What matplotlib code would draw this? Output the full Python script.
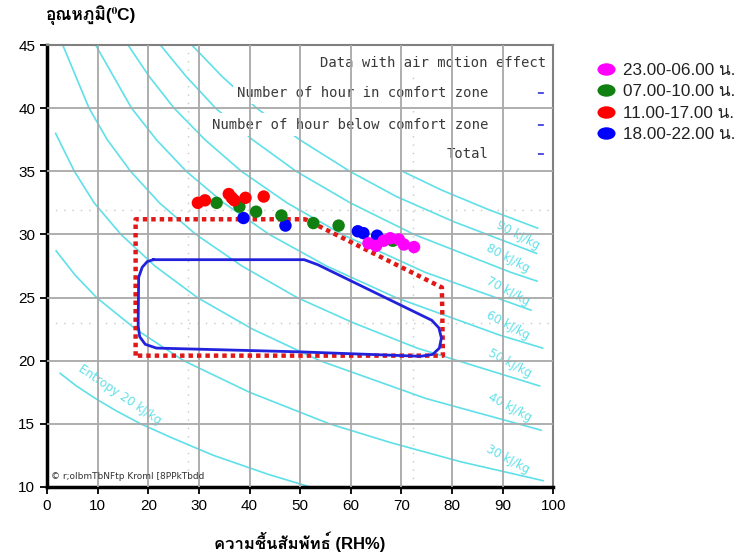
import matplotlib
matplotlib.use('Agg')
import matplotlib.pyplot as plt
from matplotlib import font_manager, ft2font
from matplotlib.lines import Line2D
from matplotlib.path import Path
from matplotlib.transforms import Affine2D

# ---- data (RH %, temperature C) ----
pts_night_rh = [63.5, 65.0, 66.5, 67.8, 69.5, 70.5, 72.5]
pts_night_t = [29.3, 29.1, 29.5, 29.7, 29.6, 29.2, 29.0]
pts_morning_rh = [33.5, 38.0, 41.3, 46.3, 52.6, 57.6, 68.3]
pts_morning_t = [32.5, 32.2, 31.8, 31.5, 30.9, 30.7, 29.5]
pts_day_rh = [29.8, 31.2, 35.9, 36.5, 37.0, 39.2, 42.8]
pts_day_t = [32.5, 32.7, 33.2, 32.9, 32.7, 32.9, 33.0]
pts_evening_rh = [38.8, 47.1, 61.4, 62.5, 65.2]
pts_evening_t = [31.3, 30.7, 30.25, 30.1, 29.9]

series_labels = ['23.00-06.00 น.', '07.00-10.00 น.', '11.00-17.00 น.', '18.00-22.00 น.']
series_colors = ['#ff00ff', '#108010', '#ff0000', '#0000ff']

# comfort zone (dotted red) and air-motion comfort zone (blue)
zone_rh = [17.5, 17.5, 51.0, 78.0, 78.2, 17.5]
zone_t = [20.4, 31.2, 31.2, 25.8, 20.4, 20.4]
blue_rh = [21.0, 50.8, 53.5, 76.0, 77.4, 77.9, 77.5, 76.2, 73.8, 50.0, 21.6, 19.4, 18.3, 18.0, 18.1, 18.8, 19.8, 21.0]
blue_t = [28.0, 28.0, 27.6, 23.2, 22.6, 21.8, 21.0, 20.5, 20.35, 20.7, 21.0, 21.3, 21.9, 22.8, 26.6, 27.4, 27.85, 28.0]

# enthalpy lines (RH, T)
enth_lines = {
    20: ([2.6, 5.8, 9.6, 13.8, 18.5, 25.2, 32.9, 43.7, 52.0], [19.0, 18.0, 17.0, 16.0, 15.0, 13.8, 12.5, 11.0, 10.0]),
    30: ([1.8, 5.5, 9.8, 17.5, 27.0, 40.0, 55.8, 68.0, 81.7, 98.0], [28.7, 26.8, 25.0, 22.5, 20.0, 17.5, 15.0, 13.5, 12.0, 10.5]),
    40: ([1.7, 5.4, 9.3, 14.6, 21.3, 29.7, 40.6, 53.9, 74.9, 97.6], [38.0, 35.0, 32.5, 30.0, 27.5, 25.0, 22.5, 20.0, 17.0, 14.5]),
    50: ([3.1, 8.3, 11.9, 16.5, 22.2, 29.4, 38.5, 49.4, 60.5, 73.1, 97.3], [45.0, 40.0, 37.5, 35.0, 32.5, 30.0, 27.5, 25.0, 23.0, 21.0, 18.0]),
    60: ([9.6, 16.7, 21.6, 27.5, 34.9, 43.9, 55.2, 68.9, 89.6, 97.9], [45.0, 40.0, 37.5, 35.0, 32.5, 30.0, 27.5, 25.0, 22.0, 21.0]),
    70: ([16.0, 20.2, 25.1, 31.2, 38.4, 47.4, 58.3, 74.7, 95.6], [45.0, 42.5, 40.0, 37.5, 35.0, 32.5, 30.0, 27.0, 24.0]),
    80: ([22.4, 27.5, 33.3, 40.6, 49.2, 59.9, 72.5, 91.6, 96.8], [45.0, 42.5, 40.0, 37.5, 35.0, 32.5, 30.0, 27.0, 26.3]),
    90: ([28.6, 34.6, 41.4, 49.9, 59.8, 69.0, 80.4, 96.7], [45.0, 42.5, 40.0, 37.5, 35.0, 33.0, 31.0, 28.5]),
    100: ([70.2, 78.0, 87.0, 96.9], [35.0, 33.5, 32.0, 30.5]),
}
enth_label_pos = {90: (93.0, 29.9), 80: (91.0, 28.1), 70: (91.0, 25.5), 60: (91.0, 22.8),
                  50: (91.5, 19.8), 40: (91.4, 16.3), 30: (91.0, 12.2)}

table_rows = ['Data with air motion effect', 'Number of hour in comfort zone',
              'Number of hour below comfort zone', 'Total']
table_y = [43.6, 41.2, 38.7, 36.4]


def thai_fonts():
    names = []
    for f in font_manager.fontManager.ttflist:
        try:
            cm = ft2font.FT2Font(f.fname).get_charmap()
        except Exception:
            continue
        if 0x0E01 in cm and f.name not in names and 'Unifont' not in f.name:
            names.append(f.name)
    return names


thai = thai_fonts()
fam = ['Liberation Sans'] + thai + ['DejaVu Sans']
plt.rcParams['font.family'] = fam

fig = plt.figure(figsize=(7.5, 5.57), dpi=100)
ax = fig.add_axes([0.0627, 0.1257, 0.675, 0.7935])
ax.set_xlim(0, 100)
ax.set_ylim(10, 45)

# grid
for gx in range(10, 100, 10):
    ax.axvline(gx, color='#a8a8a8', lw=1.3, zorder=3)
for gy in range(15, 45, 5):
    ax.axhline(gy, color='#a8a8a8', lw=1.3, zorder=3)
for gy in [31.9, 23.0]:
    ax.axhline(gy, color='#c8c8c8', lw=1.0, ls=(0, (1, 5)), zorder=1)
for gx in [27.8, 72.3]:
    ax.axvline(gx, color='#c8c8c8', lw=1.0, ls=(0, (1, 5)), zorder=1)

# enthalpy lines
cyan = '#5fe0e8'
for h, (rh, t) in enth_lines.items():
    ax.plot(rh, t, color=cyan, lw=1.2, zorder=1)
for h, (x, y) in enth_label_pos.items():
    ax.text(x, y, '%d kJ/kg' % h, color=cyan, fontsize=8.5, rotation=-28,
            ha='center', va='center', family='DejaVu Sans', zorder=2)
ax.text(14.3, 17.3, 'Entropy 20 kJ/kg', color=cyan, fontsize=8.5, rotation=-34,
        ha='center', va='center', family='DejaVu Sans', zorder=2)

# table text
for i, (row, y) in enumerate(zip(table_rows, table_y)):
    xr = 98.6 if i == 0 else 87.2
    ax.text(xr, y, row, ha='right', va='center', fontsize=10, color='#3a3a3a',
            family='DejaVu Sans Mono', zorder=2,
            bbox=dict(boxstyle='square,pad=0.3', fc='white', ec='none'))
    if i > 0:
        ax.text(97.3, y, '–', ha='center', va='center', fontsize=11, color='#5555e0',
                fontweight='bold', family='DejaVu Sans', zorder=4)

# comfort zones
ax.plot(zone_rh, zone_t, color='#e01818', lw=3.2, ls=(0, (1, 0.9)), zorder=5,
        solid_joinstyle='round')
ax.plot(blue_rh, blue_t, color='#2222dd', lw=2.0, zorder=5)

# data points
all_rh = [pts_night_rh, pts_morning_rh, pts_day_rh, pts_evening_rh]
all_t = [pts_night_t, pts_morning_t, pts_day_t, pts_evening_t]
for k in [3, 1, 2, 0]:
    ax.scatter(all_rh[k], all_t[k], s=80, color=series_colors[k], edgecolors='none', zorder=6)

ax.text(0.7, 10.8, '© r;olbmTbNFtp Kroml [8PPkTbdd', fontsize=6.5, color='#333333',
        family='DejaVu Sans', va='center', zorder=6)

# axes styling
ax.set_xticks(range(0, 101, 10))
ax.set_yticks(range(10, 46, 5))
ax.tick_params(direction='out', length=5, width=1.3, labelsize=11, colors='black')
for s in ['left', 'bottom']:
    ax.spines[s].set_linewidth(2.5)
    ax.spines[s].set_color('black')
for s in ['top', 'right']:
    ax.spines[s].set_linewidth(1.5)
    ax.spines[s].set_color('#808080')

fig.text(0.06, 0.972, 'อุณหภูมิ(⁰C)', fontsize=12.5, fontweight='bold', va='center', ha='left')
fig.text(0.40, 0.028, 'ความชื้นสัมพัทธ์ (RH%)', fontsize=12, fontweight='bold', va='center', ha='center')

# legend with oval markers
oval = Path.unit_circle().transformed(Affine2D().scale(1.45, 1.0))
handles = [Line2D([], [], ls='none', marker=oval, markersize=13, color=c, markeredgewidth=0)
           for c in series_colors]
fig.legend(handles, series_labels, loc='upper left', bbox_to_anchor=(0.772, 0.914),
           frameon=False, fontsize=12.3, handletextpad=0.3, labelspacing=0.36,
           handlelength=1.4, labelcolor='#222222')

fig.savefig('out.png', dpi=100)
